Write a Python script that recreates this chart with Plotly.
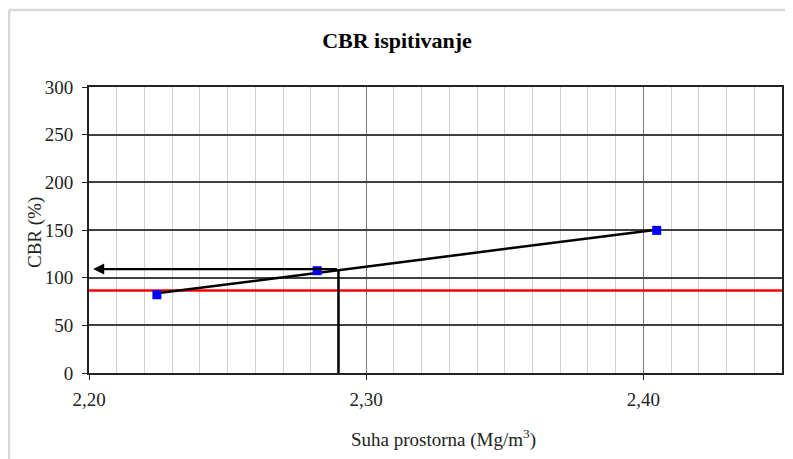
import numpy as np
import plotly.graph_objects as go

# ---- data ----
gustoca = [2.2245, 2.2823, 2.4048]          # Suha prostorna gustoća (Mg/m3)
cbr = [82.1, 107.3, 149.6]                  # CBR (%)
granica_cbr = 86.6                          # red limit line
odabrana_gustoca = 2.290                    # selected density (vertical line)
odabrani_cbr = 109.0                        # read CBR (horizontal arrow)
x_range = [2.20, 2.45]
y_range = [0, 300]
x_tickvals = [2.20, 2.30, 2.40]
x_ticktext = ["2,20", "2,30", "2,40"]

# trend line through the measured points
k, n = np.polyfit(gustoca, cbr, 1)
trend_x = [min(gustoca), max(gustoca)]
trend_y = [k * v + n for v in trend_x]

FONT = "Liberation Serif, Times New Roman, serif"
FS = 19

fig = go.Figure()
fig.add_trace(go.Scatter(x=x_range, y=[granica_cbr, granica_cbr], mode="lines",
                         line=dict(color="#ff0000", width=2.5), hoverinfo="skip"))
fig.add_trace(go.Scatter(x=trend_x, y=trend_y, mode="lines",
                         line=dict(color="#000000", width=2.5), hoverinfo="skip"))
fig.add_trace(go.Scatter(x=[odabrana_gustoca, odabrana_gustoca], y=[0, odabrani_cbr],
                         mode="lines", line=dict(color="#000000", width=2.5)))
fig.add_trace(go.Scatter(x=gustoca, y=cbr, mode="markers",
                         marker=dict(symbol="square", size=9, color="#0000ff")))

fig.add_annotation(x=x_range[0] + 0.0015, y=odabrani_cbr, ax=odabrana_gustoca, ay=odabrani_cbr,
                   xref="x", yref="y", axref="x", ayref="y", text="",
                   showarrow=True, arrowhead=2, arrowsize=1, arrowwidth=2.2,
                   arrowcolor="#000000")

# the page body adds an 8px offset, so the figure is 8px smaller than the window
OFF = 8
W, H = 793 - OFF, 459 - OFF
L, T = 89 - OFF, 87 - OFF
R = W - (782 - OFF)
B = H - (373 - OFF)
pw, ph = W - L - R, H - T - B
def px(xp): return (xp - OFF - L) / pw      # xp, yp: window pixel coords
def py(yp): return (H - B - (yp - OFF)) / ph

# axis titles
fig.add_annotation(x=px(443), y=py(438), xref="paper", yref="paper", showarrow=False,
                   text="Suha prostorna (Mg/m<sup>3</sup>)", xanchor="center", yanchor="middle",
                   font=dict(family=FONT, size=FS, color="#222222"))
fig.add_annotation(x=px(35), y=py(233), xref="paper", yref="paper", showarrow=False,
                   text="CBR (%)", textangle=-90, xanchor="center", yanchor="middle",
                   font=dict(family=FONT, size=FS, color="#222222"))

# outer light frame (left and top edges visible)
fig.add_shape(type="line", xref="paper", yref="paper", x0=px(9), x1=px(9), y0=py(470), y1=py(10),
              line=dict(color="#d8d8d8", width=2.5))
fig.add_shape(type="line", xref="paper", yref="paper", x0=px(9), x1=px(800), y0=py(10), y1=py(10),
              line=dict(color="#d8d8d8", width=2.5))

fig.update_layout(
    width=W, height=H,
    margin=dict(l=L, r=R, t=T, b=B, autoexpand=False),
    paper_bgcolor="white", plot_bgcolor="white",
    showlegend=False,
    font=dict(family=FONT, size=FS, color="#222222"),
    title=dict(text="<b>CBR ispitivanje</b>", x=(397 - OFF) / W, xanchor="center",
               y=1 - (40 - OFF) / H, yanchor="middle", font=dict(family=FONT, size=22, color="#000000")),
    xaxis=dict(range=x_range, tickvals=x_tickvals, ticktext=x_ticktext,
               showgrid=True, gridcolor="#7a7a7a", gridwidth=1,
               minor=dict(dtick=0.01, showgrid=True, gridcolor="#d0d0d0", gridwidth=1),
               showline=True, linecolor="#222222", linewidth=2, mirror=True,
               ticks="outside", ticklen=5, tickcolor="#222222", ticklabelstandoff=3,
               tickfont=dict(family=FONT, size=FS, color="#222222"),
               zeroline=False, automargin=False),
    yaxis=dict(range=y_range, dtick=50, showgrid=True, gridcolor="#404040", gridwidth=1.5,
               showline=True, linecolor="#222222", linewidth=2, mirror=True,
               ticks="outside", ticklen=5, tickcolor="#222222", ticklabelstandoff=5,
               tickfont=dict(family=FONT, size=FS, color="#222222"),
               zeroline=False, automargin=False),
)

fig.write_html("out.html")
